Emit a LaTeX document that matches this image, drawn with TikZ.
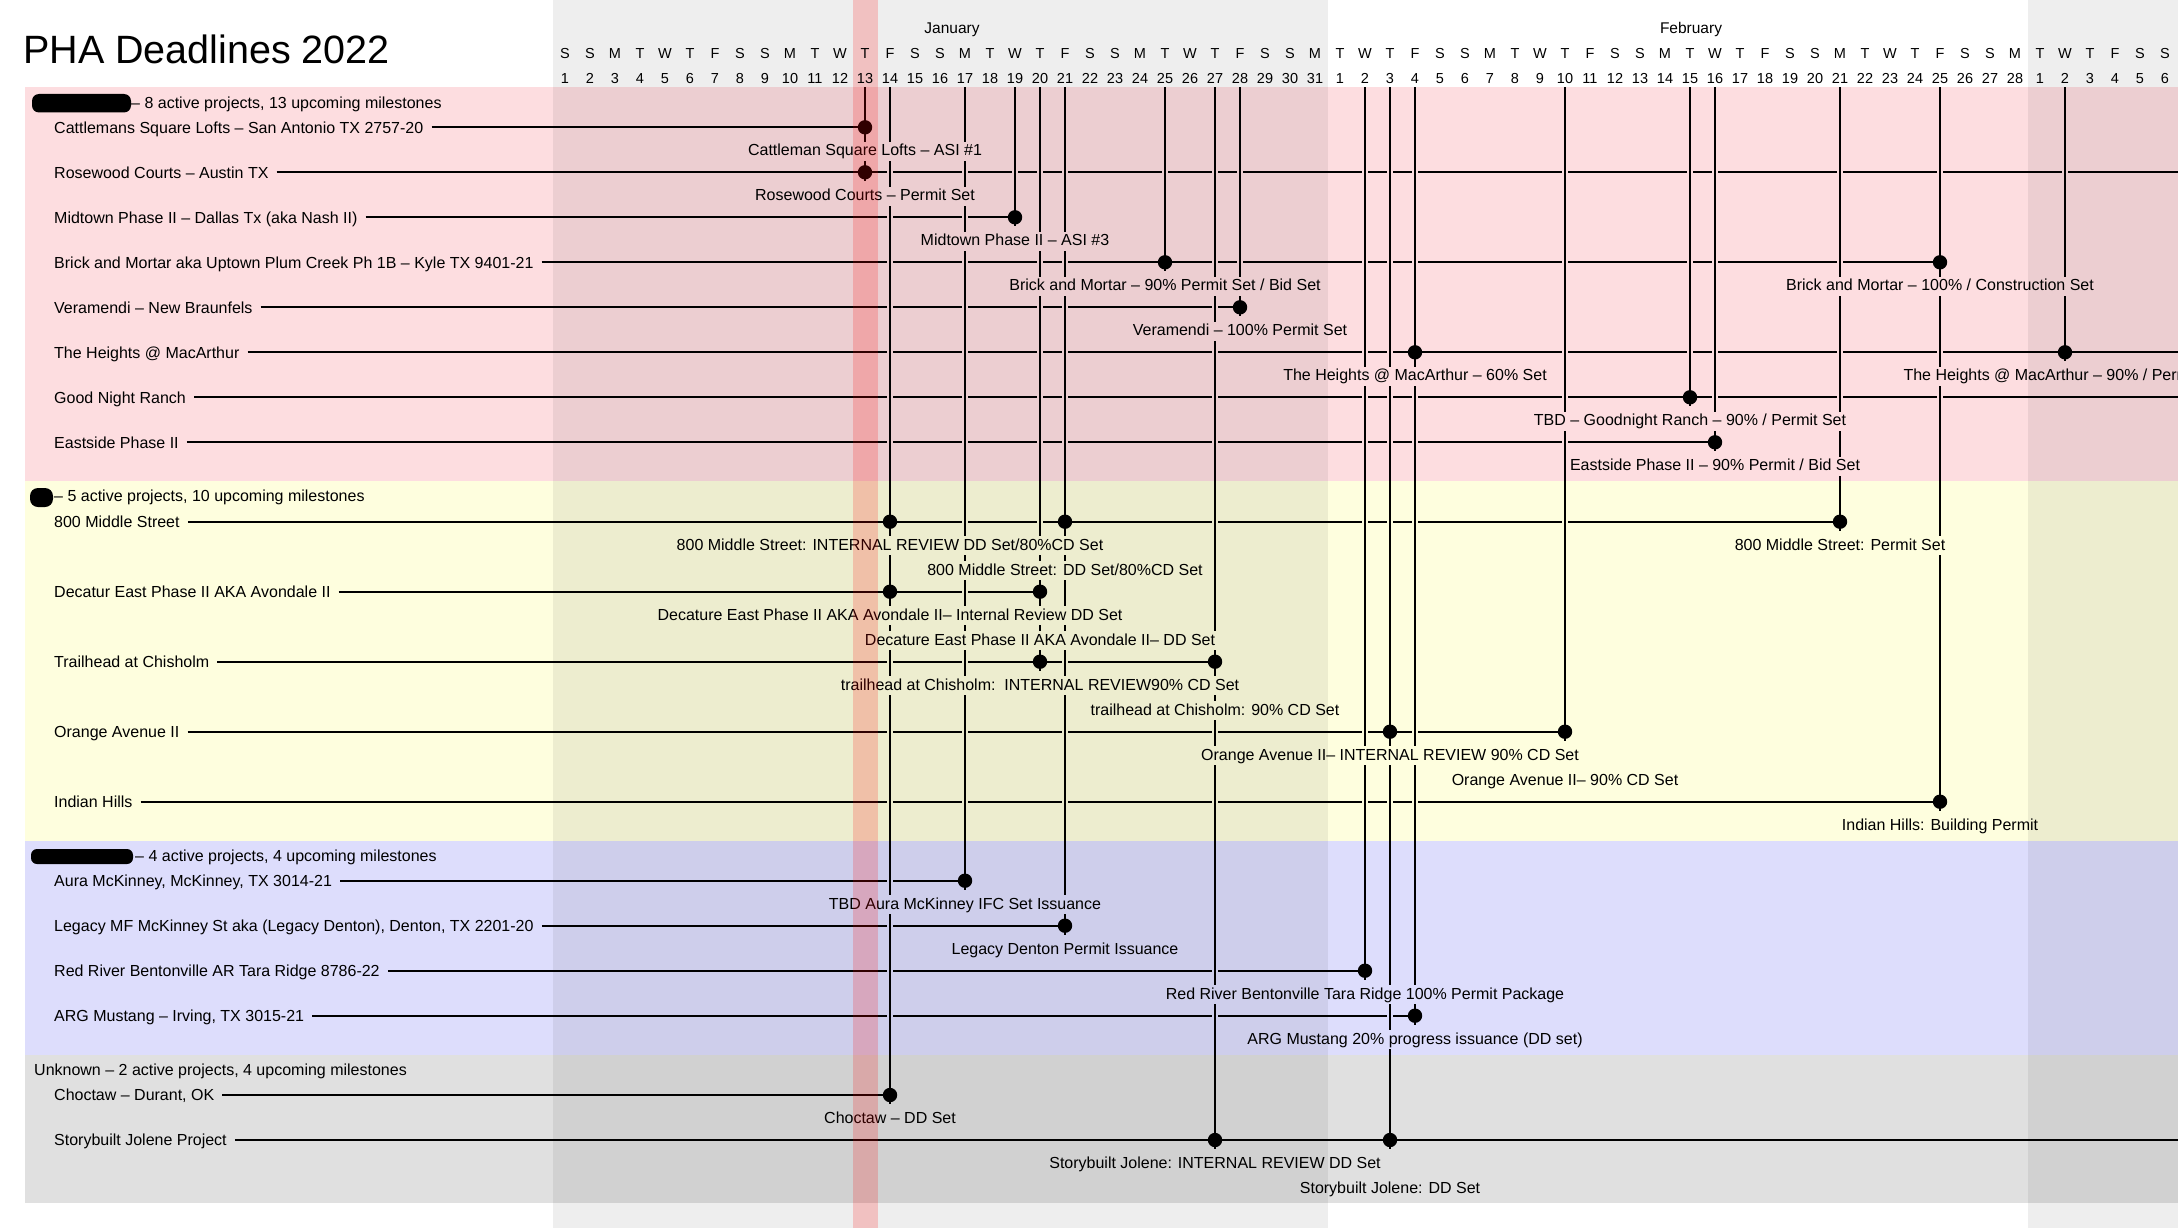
\documentclass[tikz,border=0pt]{standalone}
\usepackage{fontspec}
\setmainfont{Liberation Sans}
\definecolor{pinkband}{RGB}{253,221,224}
\definecolor{yellowband}{RGB}{254,254,222}
\definecolor{blueband}{RGB}{221,221,252}
\definecolor{grayband}{RGB}{224,224,224}
\newcommand\txt{\fontsize{16}{19}\selectfont}
\newcommand\smalltxt{\fontsize{14.5}{17}\selectfont}
\def\verts{865/172.3,890/1095,965/880.7,1015/217.3,1040/661.7,1065/925.7,1165/262.3,1215/1140,1240/307.3,1365/970.7,1390/1140,1415/1015.7,1565/731.7,1690/397.3,1715/442.3,1840/521.7,1940/801.7,2065/352.3}
\tikzset{
  rowlabel/.style={anchor=west, inner sep=0pt, text height=11.7pt, text depth=0pt, font=\txt},
  mlabel/.style={anchor=base, inner xsep=2pt, inner ysep=1.5pt, text height=12.5pt, text depth=3.5pt, font=\txt},
  hline/.style={line width=2pt, black},
  vline/.style={line width=1.4pt, black},
  dot/.style={circle, fill=black, inner sep=0pt, minimum size=14.4pt},
  hdr/.style={anchor=base, inner sep=0pt, font=\smalltxt},
}
\newcommand\rowline[6]{%
  \node[rowlabel] (#1) at (54,#2) {#3};
  \draw[hline] ([xshift=8pt]#1.east) -- (#6);
  \foreach \vx/\vy in \verts {%
    \pgfmathtruncatemacro\hit{and(\vx<#4-1,\vy>#2+1)}%
    \ifnum\hit=1 \fill[#5] (\vx-3.4,#2-1.7) rectangle (\vx+3.4,#2+1.7);\fi
  }%
}
\newcommand\mlab[5]{%
  \node[mlabel, fill=#4] (#1) at ([yshift=-#3pt]#2) {#5};
}
\begin{document}
\begin{tikzpicture}[x=1pt,y=-1pt]
\useasboundingbox (0,0) rectangle (2178,1228);
\clip (0,0) rectangle (2178,1228);
\fill[white] (0,0) rectangle (2178,1228);
% bands
\fill[pinkband] (25,87.3) rectangle (2178,481);
\fill[yellowband] (25,481) rectangle (2178,840.5);
\fill[blueband] (25,840.5) rectangle (2178,1055);
\fill[grayband] (25,1055) rectangle (2178,1203);
% milestone positions
\coordinate (a1) at (865,127.3);
\coordinate (a2) at (865,172.3);
\coordinate (a3) at (1015,217.3);
\coordinate (a4) at (1165,262.3);
\coordinate (a5) at (1940,262.3);
\coordinate (a6) at (1240,307.3);
\coordinate (a7) at (1415,352.3);
\coordinate (a8) at (2065,352.3);
\coordinate (a9) at (1690,397.3);
\coordinate (a10) at (1715,442.3);
\coordinate (b1) at (890,521.7);
\coordinate (b2) at (1065,521.7);
\coordinate (b3) at (1840,521.7);
\coordinate (b4) at (890,591.7);
\coordinate (b5) at (1040,591.7);
\coordinate (b6) at (1040,661.7);
\coordinate (b7) at (1215,661.7);
\coordinate (b8) at (1390,731.7);
\coordinate (b9) at (1565,731.7);
\coordinate (b10) at (1940,801.7);
\coordinate (c1) at (965,880.7);
\coordinate (c2) at (1065,925.7);
\coordinate (c3) at (1365,970.7);
\coordinate (c4) at (1415,1015.7);
\coordinate (d1) at (890,1095);
\coordinate (d2) at (1215,1140);
\coordinate (d3) at (1390,1140);
\coordinate (e2) at (2178,172.3);
\coordinate (e6) at (2178,352.3);
\coordinate (e7) at (2178,397.3);
\coordinate (e19) at (2178,1140);
% project rows
\rowline{r1}{127.3}{Cattlemans Square Lofts -- San Antonio TX 2757-20}{865}{pinkband}{a1}
\rowline{r2}{172.3}{Rosewood Courts -- Austin TX}{2178}{pinkband}{e2}
\rowline{r3}{217.3}{Midtown Phase II -- Dallas Tx (aka Nash II)}{1015}{pinkband}{a3}
\rowline{r4}{262.3}{Brick and Mortar aka Uptown Plum Creek Ph 1B -- Kyle TX 9401-21}{1940}{pinkband}{a5}
\rowline{r5}{307.3}{Veramendi -- New Braunfels}{1240}{pinkband}{a6}
\rowline{r6}{352.3}{The Heights @ MacArthur}{2178}{pinkband}{e6}
\rowline{r7}{397.3}{Good Night Ranch}{2178}{pinkband}{e7}
\rowline{r8}{442.3}{Eastside Phase II}{1715}{pinkband}{a10}
\rowline{s1}{521.7}{800 Middle Street}{1840}{yellowband}{b3}
\rowline{s2}{591.7}{Decatur East Phase II AKA Avondale II}{1040}{yellowband}{b5}
\rowline{s3}{661.7}{Trailhead at Chisholm}{1215}{yellowband}{b7}
\rowline{s4}{731.7}{Orange Avenue II}{1565}{yellowband}{b9}
\rowline{s5}{801.7}{Indian Hills}{1940}{yellowband}{b10}
\rowline{u1}{880.7}{Aura McKinney, McKinney, TX 3014-21}{965}{blueband}{c1}
\rowline{u2}{925.7}{Legacy MF McKinney St aka (Legacy Denton), Denton, TX 2201-20}{1065}{blueband}{c2}
\rowline{u3}{970.7}{Red River Bentonville AR Tara Ridge 8786-22}{1365}{blueband}{c3}
\rowline{u4}{1015.7}{ARG Mustang -- Irving, TX 3015-21}{1415}{blueband}{c4}
\rowline{w1}{1095}{Choctaw -- Durant, OK}{890}{grayband}{d1}
\rowline{w2}{1140}{Storybuilt Jolene Project}{2178}{grayband}{e19}
% day lines
\coordinate (t13) at (865,87.3);
\coordinate (t14) at (890,87.3);
\coordinate (t17) at (965,87.3);
\coordinate (t19) at (1015,87.3);
\coordinate (t20) at (1040,87.3);
\coordinate (t21) at (1065,87.3);
\coordinate (t25) at (1165,87.3);
\coordinate (t27) at (1215,87.3);
\coordinate (t28) at (1240,87.3);
\coordinate (tf2) at (1365,87.3);
\coordinate (tf3) at (1390,87.3);
\coordinate (tf4) at (1415,87.3);
\coordinate (tf10) at (1565,87.3);
\coordinate (tf15) at (1690,87.3);
\coordinate (tf16) at (1715,87.3);
\coordinate (tf21) at (1840,87.3);
\coordinate (tf25) at (1940,87.3);
\coordinate (tm2) at (2065,87.3);
\draw[vline] (t13) -- ([yshift=-9pt]a2);
\draw[vline] (t14) -- ([yshift=-9pt]d1);
\draw[vline] (t17) -- ([yshift=-9pt]c1);
\draw[vline] (t19) -- ([yshift=-9pt]a3);
\draw[vline] (t20) -- ([yshift=-9pt]b6);
\draw[vline] (t21) -- ([yshift=-9pt]c2);
\draw[vline] (t25) -- ([yshift=-9pt]a4);
\draw[vline] (t27) -- ([yshift=-9pt]d2);
\draw[vline] (t28) -- ([yshift=-9pt]a6);
\draw[vline] (tf2) -- ([yshift=-9pt]c3);
\draw[vline] (tf3) -- ([yshift=-9pt]d3);
\draw[vline] (tf4) -- ([yshift=-9pt]c4);
\draw[vline] (tf10) -- ([yshift=-9pt]b9);
\draw[vline] (tf15) -- ([yshift=-9pt]a9);
\draw[vline] (tf16) -- ([yshift=-9pt]a10);
\draw[vline] (tf21) -- ([yshift=-9pt]b3);
\draw[vline] (tf25) -- ([yshift=-9pt]b10);
\draw[vline] (tm2) -- ([yshift=-9pt]a8);
% milestone labels
\mlab{a1l}{a1}{28.6}{pinkband}{Cattleman Square Lofts -- ASI \#1}
\mlab{a2l}{a2}{28.6}{pinkband}{Rosewood Courts -- Permit Set}
\mlab{a3l}{a3}{28.6}{pinkband}{Midtown Phase II -- ASI \#3}
\mlab{a4l}{a4}{28.6}{pinkband}{Brick and Mortar -- 90\% Permit Set / Bid Set}
\mlab{a5l}{a5}{28.6}{pinkband}{Brick and Mortar -- 100\% / Construction Set}
\mlab{a6l}{a6}{28.6}{pinkband}{Veramendi -- 100\% Permit Set}
\mlab{a7l}{a7}{28.6}{pinkband}{The Heights @ MacArthur -- 60\% Set}
\mlab{a8l}{a8}{28.6}{pinkband}{The Heights @ MacArthur -- 90\% / Permit Set}
\mlab{a9l}{a9}{28.6}{pinkband}{TBD -- Goodnight Ranch -- 90\% / Permit Set}
\mlab{a10l}{a10}{28.6}{pinkband}{Eastside Phase II -- 90\% Permit / Bid Set}
\mlab{b1l}{b1}{28.6}{yellowband}{800 Middle Street: INTERNAL REVIEW DD Set/80\%CD Set}
\mlab{b2l}{b2}{53.3}{yellowband}{800 Middle Street: DD Set/80\%CD Set}
\mlab{b3l}{b3}{28.6}{yellowband}{800 Middle Street: Permit Set}
\mlab{b4l}{b4}{28.6}{yellowband}{Decature East Phase II AKA Avondale II-- Internal Review DD Set}
\mlab{b5l}{b5}{53.3}{yellowband}{Decature East Phase II AKA Avondale II-- DD Set}
\mlab{b6l}{b6}{28.6}{yellowband}{trailhead at Chisholm:\ \ INTERNAL REVIEW90\% CD Set}
\mlab{b7l}{b7}{53.3}{yellowband}{trailhead at Chisholm: 90\% CD Set}
\mlab{b8l}{b8}{28.6}{yellowband}{Orange Avenue II-- INTERNAL REVIEW 90\% CD Set}
\mlab{b9l}{b9}{53.3}{yellowband}{Orange Avenue II-- 90\% CD Set}
\mlab{b10l}{b10}{28.6}{yellowband}{Indian Hills: Building Permit}
\mlab{c1l}{c1}{28.6}{blueband}{TBD Aura McKinney IFC Set Issuance}
\mlab{c2l}{c2}{28.6}{blueband}{Legacy Denton Permit Issuance}
\mlab{c3l}{c3}{28.6}{blueband}{Red River Bentonville Tara Ridge 100\% Permit Package}
\mlab{c4l}{c4}{28.6}{blueband}{ARG Mustang 20\% progress issuance (DD set)}
\mlab{d1l}{d1}{28.6}{grayband}{Choctaw -- DD Set}
\mlab{d2l}{d2}{28.6}{grayband}{Storybuilt Jolene: INTERNAL REVIEW DD Set}
\mlab{d3l}{d3}{53.3}{grayband}{Storybuilt Jolene: DD Set}
% dots
\foreach \m in {a1,a2,a3,a4,a5,a6,a7,a8,a9,a10,b1,b2,b3,b4,b5,b6,b7,b8,b9,b10,c1,c2,c3,c4,d1,d2,d3}
  \node[dot] (\m d) at (\m) {};
% month shading and today
\fill[black, opacity=0.067] (552.5,0) rectangle (1327.5,1228);
\fill[black, opacity=0.067] (2027.5,0) rectangle (2178,1228);
\fill[red, opacity=0.19] (852.5,0) rectangle (877.5,1228);
% header
\node[anchor=base west, inner sep=0pt, font=\fontsize{39.5}{45}\selectfont] (title) at (23,63.3) {PHA Deadlines 2022};
\node[hdr, font=\fontsize{15.5}{18}\selectfont] (jan) at (952,33.5) {January};
\node[hdr, font=\fontsize{15.5}{18}\selectfont] (feb) at (1691,33.5) {February};
\foreach \i in {0,...,64} {
  \pgfmathtruncatemacro\wdn{mod(\i,7)}
  \pgfmathtruncatemacro\dn{\i<31 ? \i+1 : (\i<59 ? \i-30 : \i-58)}
  \node[hdr] (wd\i) at (565+25*\i,58.5) {\ifcase\wdn S\or S\or M\or T\or W\or T\or F\fi};
  \node[hdr] (dn\i) at (565+25*\i,83.3) {\dn};
}
% group headers
\fill[black, rounded corners=7pt] (32,94) rectangle (131,112.5);
\fill[black, rounded corners=8pt] (30,488) rectangle (53,507);
\fill[black, rounded corners=6pt] (31,849) rectangle (133,864);
\node[rowlabel] (h1) at (131,102.5) {-- 8 active projects, 13 upcoming milestones};
\node[rowlabel] (h2) at (54,495.9) {-- 5 active projects, 10 upcoming milestones};
\node[rowlabel] (h3) at (135,855.9) {-- 4 active projects, 4 upcoming milestones};
\node[rowlabel] (h4) at (34,1069.2) {Unknown -- 2 active projects, 4 upcoming milestones};
\end{tikzpicture}
\end{document}
